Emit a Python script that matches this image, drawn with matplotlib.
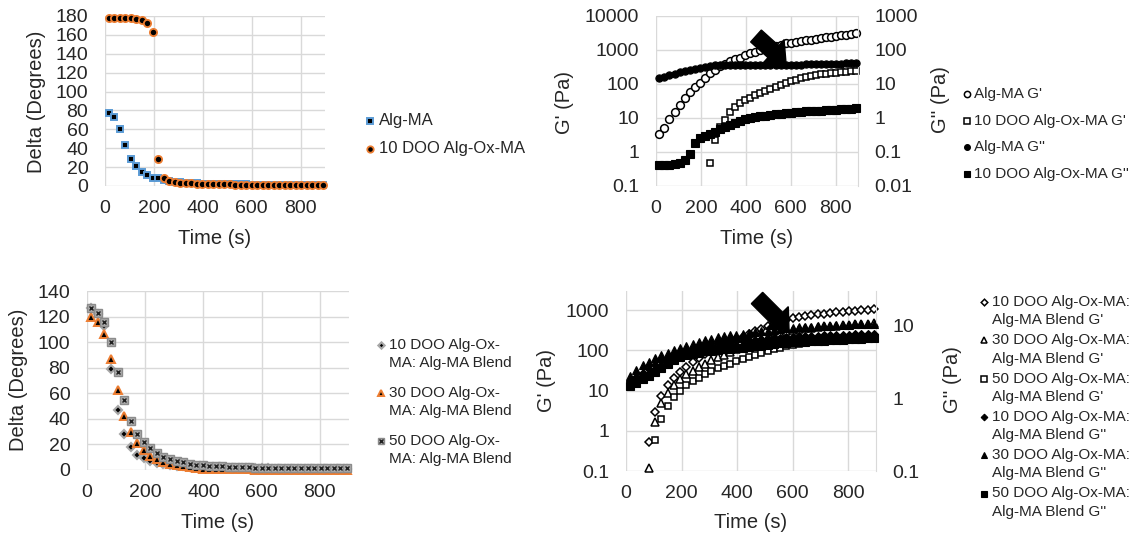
import matplotlib
matplotlib.use("Agg")
import matplotlib.pyplot as plt
from matplotlib.lines import Line2D
from matplotlib.patches import Polygon
from matplotlib.ticker import FuncFormatter, NullLocator
import numpy as np

plt.rcParams['font.family'] = ['Liberation Sans', 'DejaVu Sans']

# figure size in pixels, all layout below is in pixels from top-left
W, H = 1143, 537

GRID = '#D9D9D9'
TXT = '#262626'
BLUE = '#5B9BD5'
ORANGE = '#ED7D31'

# time of each measurement point (s)
TIME = [15, 37.5, 60, 82.5, 105, 127.5, 150, 172.5, 195, 217.5,
        240, 262.5, 285, 307.5, 330, 352.5, 375, 397.5, 420, 442.5,
        465, 487.5, 510, 532.5, 555, 577.5, 600, 622.5, 645, 667.5,
        690, 712.5, 735, 757.5, 780, 802.5, 825, 847.5, 870, 892.5]

# top left: phase angle
ALG_DELTA = [77, 73, 60, 43, 29, 21, 15, 12, 9, 8,
             6.5, 5.5, 4.5, 4, 3.5, 3, 3, 2.5, 2.5, 2.2,
             2, 2, 1.8, 1.8, 1.6, 1.6, 1.5, 1.5, 1.5, 1.4,
             1.4, 1.3, 1.3, 1.3, 1.2, 1.2, 1.2, 1.2, 1.1, 1.1]
OX10_DELTA = [178, 178, 178, 178, 177.5, 177, 176, 173, 163, 29,
              8, 5, 4, 3.5, 3, 2.8, 2.5, 2.3, 2, 2,
              1.8, 1.7, 1.6, 1.5, 1.4, 1.3, 1.2, 1.1, 1, 1,
              1, 0.9, 0.9, 0.9, 0.9, 0.8, 0.8, 0.8, 0.8, 0.8]

# top right: moduli (G' left axis, G'' right axis)
ALG_GP = [3.3, 5, 9.5, 15.5, 24, 38, 57, 80, 110, 150,
          205, 265, 330, 400, 460, 530, 600, 690, 800, 900,
          1000, 1100, 1200, 1320, 1450, 1560, 1650, 1740, 1830, 1920,
          2020, 2120, 2230, 2340, 2450, 2560, 2680, 2800, 2950, 3100]
OX10_GP = [None, None, None, None, None, None, None, None, None, None,
           0.47, 2.3, 5.5, 9, 15, 21, 27, 33, 40, 47,
           55, 64, 72, 82, 95, 108, 120, 135, 148, 160,
           172, 184, 192, 198, 204, 210, 218, 226, 236, 245]
ALG_GPP = [14.7, 16.5, 18, 19.8, 21.8, 24, 26.2, 28.5, 30.5, 32.5,
           34, 35.2, 36, 36.5, 36.8, 37, 37, 37, 37, 37,
           37, 37, 37, 37, 37, 37, 37, 37.2, 37.4, 37.6,
           37.8, 38, 38.3, 38.6, 39, 39.4, 39.8, 40.2, 40.6, 41]
OX10_GPP = [0.042, 0.042, 0.042, 0.043, 0.046, 0.058, 0.09, 0.18, 0.25, 0.30,
            0.35, 0.40, 0.46, 0.53, 0.62, 0.73, 0.83, 0.93, 1.02, 1.07,
            1.11, 1.16, 1.21, 1.27, 1.33, 1.39, 1.44, 1.48, 1.52, 1.56,
            1.60, 1.63, 1.66, 1.69, 1.73, 1.77, 1.81, 1.85, 1.89, 1.93]

# bottom left: phase angle of blends
B10_DELTA = [127, 122, 113, 79, 47, 28, 18, 12, 9, 7,
             5.5, 4.5, 3.8, 3.2, 2.8, 2.4, 2.1, 1.9, 1.7, 1.6,
             1.5, 1.4, 1.4, 1.3, 1.3, 1.2, 1.2, 1.2, 1.1, 1.1,
             1.1, 1.0, 1.0, 1.0, 1.0, 1.0, 0.9, 0.9, 0.9, 0.9]
B30_DELTA = [120, 116, 106, 87, 62.5, 42.5, 30, 21.5, 15.5, 11,
             8.5, 6.5, 5, 4, 3, 2.3, 1.6, 1.1, 0.8, 0.6,
             0.5, 0.5, 0.4, 0.4, 0.4, 0.3, 0.3, 0.3, 0.3, 0.3,
             0.3, 0.3, 0.3, 0.3, 0.3, 0.3, 0.3, 0.3, 0.3, 0.3]
B50_DELTA = [127, 123, 116, 100, 77, 55, 38.5, 28, 22, 17,
             13, 10.5, 8.6, 7, 6, 5, 4.2, 3.8, 3.4, 3.1,
             2.8, 2.6, 2.4, 2.2, 2.0, 1.9, 1.8, 1.7, 1.6, 1.6,
             1.5, 1.5, 1.4, 1.4, 1.3, 1.3, 1.3, 1.2, 1.2, 1.2]

# bottom right: moduli of blends
B10_GP = [None, None, None, 0.53, 3.0, 7.5, 13.5, 21, 29, 38,
          50, 63, 80, 98, 118, 140, 163, 190, 220, 255,
          295, 340, 400, 465, 520, 570, 620, 665, 705, 745,
          780, 815, 850, 880, 910, 935, 960, 985, 1010, 1040]
B30_GP = [None, None, None, 0.12, 1.7, 4.8, 8.6, 13.8, 19.5, 25.5,
          31, 38, 46, 57, 68, 78, 90, 105, 122, 140,
          160, 185, 210, 240, 270, 295, 320, 340, 355, 368,
          380, 392, 403, 413, 423, 432, 441, 450, 460, 470]
B50_GP = [None, None, None, None, 0.6, 2.0, 4.2, 7.0, 10, 13.5,
          17, 21, 26, 31, 36, 41, 47, 54, 62, 70,
          78, 87, 96, 106, 116, 125, 134, 142, 150, 157,
          164, 170, 176, 182, 187, 192, 197, 202, 207, 212]
B10_GPP = [1.7, 1.95, 2.2, 2.5, 2.85, 3.2, 3.55, 3.9, 4.2, 4.5,
           4.75, 5.0, 5.2, 5.4, 5.6, 5.75, 5.9, 6.0, 6.1, 6.2,
           6.3, 6.4, 6.5, 6.6, 6.7, 6.8, 6.9, 7.0, 7.05, 7.1,
           7.15, 7.2, 7.25, 7.3, 7.35, 7.4, 7.45, 7.5, 7.55, 7.6]
B30_GPP = [2.0, 2.4, 2.8, 3.15, 3.5, 3.85, 4.2, 4.5, 4.8, 5.1,
           5.5, 5.9, 6.2, 6.5, 6.8, 7.0, 7.2, 7.4, 7.6, 7.8,
           8.0, 8.2, 8.4, 8.6, 8.8, 9.0, 9.2, 9.3, 9.4, 9.5,
           9.6, 9.7, 9.8, 9.9, 10.0, 10.1, 10.2, 10.3, 10.4, 10.5]
B50_GPP = [1.45, 1.6, 1.8, 2.0, 2.25, 2.55, 2.9, 3.3, 3.6, 3.85,
           4.05, 4.2, 4.35, 4.45, 4.55, 4.65, 4.72, 4.8, 4.9, 5.0,
           5.1, 5.2, 5.3, 5.45, 5.6, 5.7, 5.8, 5.85, 5.9, 6.0,
           6.05, 6.1, 6.2, 6.25, 6.3, 6.35, 6.4, 6.5, 6.55, 6.6]

X_TICKS = [0, 200, 400, 600, 800]

# marker styles
M_ALG = dict(marker='s', ms=5.0, mfc='black', mec=BLUE, mew=1.4)
M_OX10 = dict(marker='o', ms=5.2, mfc='black', mec=ORANGE, mew=1.3)
M_OPEN_O = dict(marker='o', ms=5.6, mfc='white', mec='black', mew=1.1)
M_OPEN_S = dict(marker='s', ms=5.0, mfc='white', mec='black', mew=1.1)
M_FULL_O = dict(marker='o', ms=5.2, mfc='black', mec='black', mew=0.8)
M_FULL_S = dict(marker='s', ms=5.2, mfc='black', mec='black', mew=0.8)
M_B10 = dict(marker='D', ms=4.0, mfc='black', mec='#A6A6A6', mew=1.5)
M_B30 = dict(marker='^', ms=6.0, mfc='black', mec=ORANGE, mew=1.4)
M_B50 = dict(marker='s', ms=5.6, mfc='#ABABAB', mec='#8C8C8C', mew=1.0)
M_B50_X = dict(marker='x', ms=3.0, mfc='black', mec='#202020', mew=1.0)
M_OPEN_D = dict(marker='D', ms=4.2, mfc='white', mec='black', mew=1.1)
M_OPEN_T = dict(marker='^', ms=5.8, mfc='white', mec='black', mew=1.1)
M_FULL_D = dict(marker='D', ms=4.2, mfc='black', mec='black', mew=0.8)
M_FULL_T = dict(marker='^', ms=5.8, mfc='black', mec='black', mew=0.8)


def fx(x):
    return x / W


def fy(y):
    return 1 - y / H


def make_axes(fig, x0, y0, x1, y1):
    ax = fig.add_axes([fx(x0), fy(y1), (x1 - x0) / W, (y1 - y0) / H])
    ax.set_facecolor('none')
    for s in ax.spines.values():
        s.set_visible(False)
    ax.grid(True, color=GRID, lw=1.0)
    ax.set_axisbelow(True)
    ax.tick_params(length=0, labelsize=14, colors=TXT)
    ax.tick_params(axis='y', pad=12)
    ax.tick_params(axis='x', pad=10)
    ax.set_xlim(0, 900)
    ax.set_xticks(X_TICKS)
    return ax


def log_axis(ax, lo, hi, ticks):
    ax.set_yscale('log')
    ax.set_ylim(lo, hi)
    ax.set_yticks(ticks)
    ax.yaxis.set_minor_locator(NullLocator())
    ax.yaxis.set_major_formatter(FuncFormatter(lambda v, p: '%g' % v))


def twin_log(ax, lo, hi, ticks):
    ax2 = ax.twinx()
    for s in ax2.spines.values():
        s.set_visible(False)
    ax2.spines['right'].set_visible(True)
    ax2.spines['right'].set_color(GRID)
    log_axis(ax2, lo, hi, ticks)
    ax2.tick_params(length=0, labelsize=14, colors=TXT, pad=12)
    ax2.set_xlim(0, 900)
    return ax2


def series(ax, y, style, z=3):
    ax.plot(TIME, np.array(y, dtype=float), linestyle='none', zorder=z, clip_on=False, **style)


def label(fig, x, y, s, rot=0, size=14.5):
    fig.text(fx(x), fy(y), s, rotation=rot, ha='center', va='center', fontsize=size, color=TXT)


def legend_entry(fig, mx, tx, y, lines, styles, size, gap=18.3):
    for st in styles:
        fig.add_artist(Line2D([fx(mx)], [fy(y)], transform=fig.transFigure,
                              linestyle='none', **st))
    for i, s in enumerate(lines):
        fig.text(fx(tx), fy(y + i * gap), s, ha='left', va='center', fontsize=size, color=TXT)


def block_arrow(fig, tail, tip, half_w, head_w, head_l):
    p0 = np.array(tail, float)
    p1 = np.array(tip, float)
    d = (p1 - p0) / np.linalg.norm(p1 - p0)
    n = np.array([-d[1], d[0]])
    base = p1 - d * head_l
    pts = [p0 + n * half_w, base + n * half_w, base + n * head_w, p1,
           base - n * head_w, base - n * half_w, p0 - n * half_w]
    pts = [(fx(p[0]), fy(p[1])) for p in pts]
    fig.add_artist(Polygon(pts, closed=True, transform=fig.transFigure,
                           facecolor='black', edgecolor='black', zorder=10))


fig = plt.figure(figsize=(W / 100, H / 100), dpi=100)

# ---- top left ----
ax = make_axes(fig, 105, 16, 325, 186)
ax.set_ylim(0, 180)
ax.set_yticks(range(0, 181, 20))
series(ax, ALG_DELTA, M_ALG)
series(ax, OX10_DELTA, M_OX10, 4)
label(fig, 215, 238, 'Time (s)')
label(fig, 36, 102, 'Delta (Degrees)', 90)
legend_entry(fig, 370, 379, 121, ['Alg-MA'], [dict(M_ALG, ms=4.4)], 12)
legend_entry(fig, 370, 379, 149, ['10 DOO Alg-Ox-MA'], [dict(M_OX10, ms=4.6)], 12)

# ---- top right ----
ax = make_axes(fig, 656, 16, 858, 186)
log_axis(ax, 0.1, 10000, [0.1, 1, 10, 100, 1000, 10000])
ax2 = twin_log(ax, 0.01, 1000, [0.01, 0.1, 1, 10, 100, 1000])
series(ax, ALG_GP, M_OPEN_O)
series(ax, OX10_GP, M_OPEN_S)
series(ax2, ALG_GPP, M_FULL_O)
series(ax2, OX10_GPP, M_FULL_S)
label(fig, 757, 238, 'Time (s)')
label(fig, 565, 102, "G' (Pa)", 90)
label(fig, 940, 100, "G'' (Pa)", 90)
block_arrow(fig, (756, 36), (786, 63), 8, 16, 17)
lx, ltx = 967, 974
legend_entry(fig, lx, ltx, 94, ["Alg-MA G'"], [dict(M_OPEN_O, ms=4.5)], 11)
legend_entry(fig, lx, ltx, 121, ["10 DOO Alg-Ox-MA G'"], [dict(M_OPEN_S, ms=4.2)], 11)
legend_entry(fig, lx, ltx, 147, ["Alg-MA G''"], [dict(M_FULL_O, ms=4.2)], 11)
legend_entry(fig, lx, ltx, 174, ["10 DOO Alg-Ox-MA G''"], [dict(M_FULL_S, ms=4.2)], 11)

# ---- bottom left ----
ax = make_axes(fig, 87, 291, 349, 470)
ax.set_ylim(0, 140)
ax.set_yticks(range(0, 141, 20))
series(ax, B10_DELTA, M_B10)
series(ax, B30_DELTA, M_B30, 4)
series(ax, B50_DELTA, M_B50, 5)
series(ax, B50_DELTA, M_B50_X, 6)
label(fig, 218, 523, 'Time (s)')
label(fig, 19, 380, 'Delta (Degrees)', 90)
legend_entry(fig, 381, 389, 345, ['10 DOO Alg-Ox-', 'MA: Alg-MA Blend'], [dict(M_B10, ms=3.2)], 11)
legend_entry(fig, 381, 389, 393, ['30 DOO Alg-Ox-', 'MA: Alg-MA Blend'], [dict(M_B30, ms=5)], 11)
legend_entry(fig, 381, 389, 441, ['50 DOO Alg-Ox-', 'MA: Alg-MA Blend'], [dict(M_B50, ms=4.6), dict(M_B50_X, ms=2.5)], 11)

# ---- bottom right ----
ax = make_axes(fig, 626, 291, 876, 471)
log_axis(ax, 0.1, 2990, [0.1, 1, 10, 100, 1000])
ax2 = twin_log(ax, 0.1, 29.3, [0.1, 1, 10])
series(ax, B10_GP, M_OPEN_D)
series(ax, B30_GP, M_OPEN_T)
series(ax, B50_GP, M_OPEN_S)
series(ax2, B10_GPP, M_FULL_D)
series(ax2, B30_GPP, M_FULL_T)
series(ax2, B50_GPP, M_FULL_S)
label(fig, 751, 522, 'Time (s)')
label(fig, 547, 380, "G' (Pa)", 90)
label(fig, 952, 380, "G'' (Pa)", 90)
block_arrow(fig, (757, 298), (789, 330), 8, 16, 17)
bx, btx = 984, 992
names = ['10 DOO', '30 DOO', '50 DOO', '10 DOO', '30 DOO', '50 DOO']
kinds = ["G'", "G'", "G'", "G''", "G''", "G''"]
marks = [M_OPEN_D, M_OPEN_T, M_OPEN_S, M_FULL_D, M_FULL_T, M_FULL_S]
for i in range(6):
    legend_entry(fig, bx, btx, 302 + i * 38.3,
                 [names[i] + ' Alg-Ox-MA:', 'Alg-MA Blend ' + kinds[i]],
                 [dict(marks[i], ms=marks[i]['ms'] * 0.8)], 11)

fig.savefig('out.png', dpi=100)
